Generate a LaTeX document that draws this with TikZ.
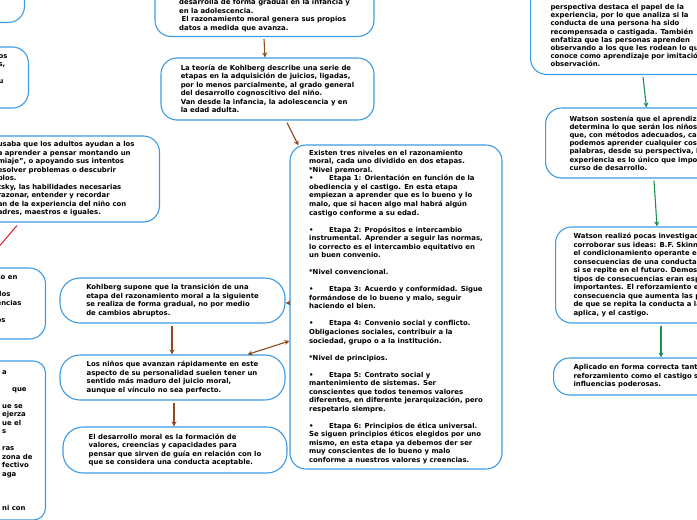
\documentclass[tikz,border=0pt]{standalone}
\usepackage{fontspec}
\setmainfont{DejaVu Sans}
\usepackage{tikz}
\usetikzlibrary{arrows.meta}
\definecolor{mapblue}{HTML}{3D9BE3}
\definecolor{mapbrown}{HTML}{8E4A1E}
\definecolor{mapgreen}{HTML}{1F8C50}
\definecolor{mapred}{HTML}{D92B3A}
\tikzset{
  idea/.style={draw=mapblue, line width=1.1pt, rounded corners=16pt, fill=white, align=left, inner sep=0pt, font=\bfseries\fontsize{6.9}{8.5}\selectfont},
  link/.style={draw=mapbrown, line width=1.1pt, -{Stealth[length=5pt,width=5pt]}},
  glink/.style={link, draw=mapgreen},
}
\begin{document}
\begin{tikzpicture}[x=1pt,y=-1pt]
\useasboundingbox (0,0) rectangle (697,520);
\clip (0,0) rectangle (697,520);
\node[idea, anchor=south east, minimum width=80, minimum height=70] (fragA) at (25,23) {};
\node[idea, anchor=east, inner xsep=21, minimum height=61] (fragB) at (29,77.5) {os\\s,\\\mbox{}\\u\\\mbox{}\\\mbox{}};
\node[idea, anchor=east, inner xsep=25, minimum height=86] (vygotsky) at (160,179) {usaba que los adultos ayudan a los\\a aprender a pensar montando un\\miaje”, o apoyando sus intentos\\esolver problemas o descubrir\\plos.\\tsky, las habilidades necesarias\\razonar, entender y recordar\\an de la experiencia del niño con\\adres, maestros e iguales.};
\node[idea, anchor=east, inner xsep=24, minimum height=71] (fragD) at (46,303.5) {so en\\\mbox{}\\dos\\encias\\\mbox{}\\os\\\mbox{}};
\node[idea, anchor=east, inner xsep=13, minimum height=159, rounded corners=12pt] (fragE) at (46,440.5) {a\\\mbox{}\\\hspace*{10pt}que\\\mbox{}\\ue se\\ejerza\\ue el\\s\\\mbox{}\\ras\\zona de\\fectivo\\aga\\\mbox{}\\\mbox{}\\\mbox{}\\ni con};
\node[idea, anchor=south, minimum width=219, inner ysep=5] (growth) at (264.5,37) {\mbox{}\\\mbox{}\\\mbox{}\\desarrolla de forma gradual en la infancia y\\en la adolescencia.\\\hspace*{2.5pt}El razonamiento moral genera sus propios\\datos a medida que avanza.};
\node[idea, minimum width=213, minimum height=62] (teoria) at (267.5,89) {La teoría de Kohlberg describe una serie de\\etapas en la adquisición de juicios, ligadas,\\por lo menos parcialmente, al grado general\\del desarrollo cognoscitivo del niño.\\Van desde la infancia, la adolescencia y en\\la edad adulta.};
\node[idea, minimum width=212, minimum height=324, font=\bfseries\fontsize{6.9}{8.53}\selectfont] (niveles) at (396,307) {Existen tres niveles en el razonamiento\\moral, cada uno dividido en dos etapas.\\*Nivel premoral.\\\makebox[20pt][l]{•}Etapa 1: Orientación en función de la\\obediencia y el castigo. En esta etapa\\empiezan a aprender que es lo bueno y lo\\malo, que si hacen algo mal habrá algún\\castigo conforme a su edad.\\\mbox{}\\\makebox[20pt][l]{•}Etapa 2: Propósitos e intercambio\\instrumental. Aprender a seguir las normas,\\lo correcto es el intercambio equitativo en\\un buen convenio.\\\mbox{}\\*Nivel convencional.\\\mbox{}\\\makebox[20pt][l]{•}Etapa 3: Acuerdo y conformidad. Sigue\\formándose de lo bueno y malo, seguir\\haciendo el bien.\\\mbox{}\\\makebox[20pt][l]{•}Etapa 4: Convenio social y conflicto.\\Obligaciones sociales, contribuir a la\\sociedad, grupo o a la institución.\\\mbox{}\\*Nivel de principios.\\\mbox{}\\\makebox[20pt][l]{•}Etapa 5: Contrato social y\\mantenimiento de sistemas. Ser\\conscientes que todos tenemos valores\\diferentes, en diferente jerarquización, pero\\respetarlo siempre.\\\mbox{}\\\makebox[20pt][l]{•}Etapa 6: Principios de ética universal.\\Se siguen principios éticos elegidos por uno\\mismo, en esta etapa ya debemos der ser\\muy conscientes de lo bueno y malo\\conforme a nuestros valores y creencias.};
\node[idea, minimum width=225, minimum height=45, rounded corners=20pt] (transicion) at (172.5,300.5) {Kohlberg supone que la transición de una\\etapa del razonamiento moral a la siguiente\\se realiza de forma gradual, no por medio\\de cambios abruptos.};
\node[idea, minimum width=225, minimum height=45, rounded corners=20pt] (vinculo) at (172.5,377.5) {Los niños que avanzan rápidamente en este\\aspecto de su personalidad suelen tener un\\sentido más maduro del juicio moral,\\aunque el vínculo no sea perfecto.};
\node[idea, minimum width=224, minimum height=46, rounded corners=20pt] (desarrollo) at (175,450) {El desarrollo moral es la formación de\\valores, creencias y capacidades para\\pensar que sirven de guía en relación con lo\\que se considera una conducta aceptable.};
\node[idea, anchor=south west, inner xsep=20, inner ysep=7.5, font=\bfseries\fontsize{6.9}{8.2}\selectfont] (imitacion) at (530,75) {\mbox{}\\\mbox{}\\\mbox{}\\perspectiva destaca el papel de la\\experiencia, por lo que analiza si la\\conducta de una persona ha sido\\recompensada o castigada. También\\enfatiza que las personas aprenden\\observando a los que les rodean lo que\\conoce como aprendizaje por imitación\\observación.};
\node[idea, anchor=west, inner xsep=24, minimum height=70, font=\bfseries\fontsize{6.9}{8.2}\selectfont] (watson) at (545,143) {Watson sostenía que el aprendizaje\\determina lo que serán los niños.\\que, con métodos adecuados, casi\\podemos aprender cualquier cosa.\\palabras, desde su perspectiva, la\\experiencia es lo único que importa\\curso de desarrollo.};
\node[idea, anchor=west, inner xsep=18, minimum height=96] (skinner) at (555,275) {Watson realizó pocas investigaciones\\corroborar sus ideas: B.F. Skinner\\el condicionamiento operante en\\consecuencias de una conducta\\si se repite en el futuro. Demostró\\tipos de consecuencias eran especialmente\\importantes. El reforzamiento es\\consecuencia que aumenta las probabilidades\\de que se repita la conducta a la\\aplica, y el castigo.};
\node[idea, anchor=west, inner xsep=20, minimum height=37] (aplicado) at (553,376.5) {Aplicado en forma correcta tanto el\\reforzamiento como el castigo son\\influencias poderosas.};
\draw[link] ([shift={(-0.5,2)}]growth.south) -- ([shift={(-2.5,0)}]teoria.north);
\draw[link] ([shift={(19.5,2)}]teoria.south) -- ([shift={(9,1)}]niveles.north west);
\draw[link] ([shift={(-0.5,2)}]transicion.south) -- ([shift={(-0.5,0)}]vinculo.north);
\draw[link] ([shift={(1.5,2)}]vinculo.south) -- ([shift={(-1,0)}]desarrollo.north);
\draw[link] ([shift={(0,-4)}]niveles.west) -- ([shift={(0,2.5)}]transicion.east);
\draw[link, {Stealth[length=5pt,width=5pt]}-{Stealth[length=5pt,width=5pt]}] ([shift={(-38,0)}]vinculo.north east) -- ([shift={(0,34)}]niveles.west);
\draw[glink] ([shift={(113,2)}]imitacion.south west) -- ([shift={(101.5,0)}]watson.north west);
\draw[glink] ([shift={(109,2)}]watson.south west) -- ([shift={(102,0)}]skinner.north west);
\draw[glink] ([shift={(106,2)}]skinner.south west) -- ([shift={(108,0)}]aplicado.north west);
\coordinate (vygend) at (-4,250);
\draw[mapred, line width=1.1pt] ([shift={(-143,3)}]vygotsky.south east) -- (vygend);
\end{tikzpicture}
\end{document}
